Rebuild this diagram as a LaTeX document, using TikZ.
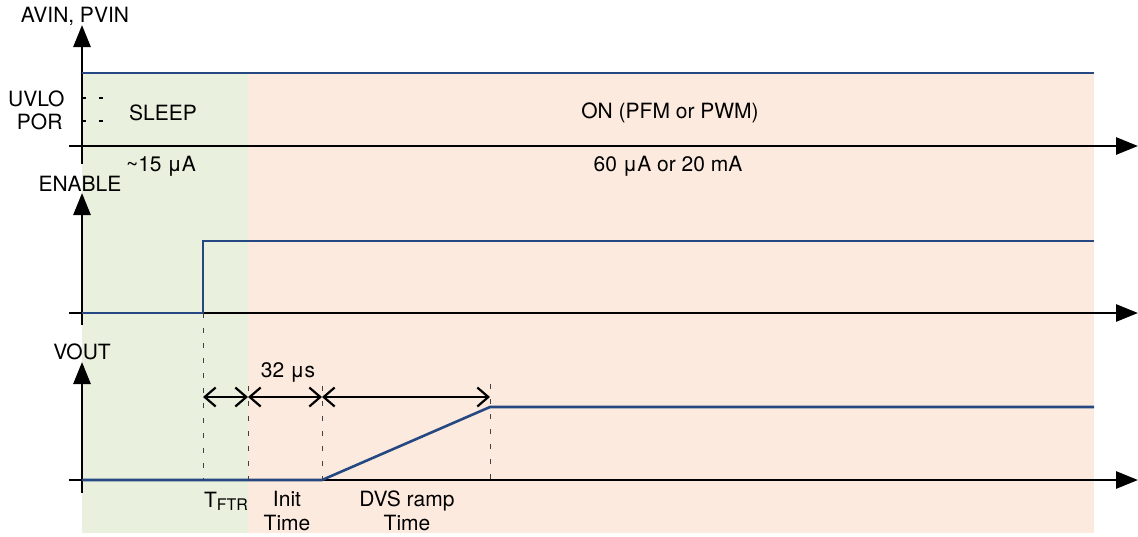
\documentclass[tikz,border=0pt]{standalone}
\usepackage{fontspec}
\setmainfont{TeX Gyre Heros}
\usetikzlibrary{arrows.meta}

\definecolor{sigblue}{RGB}{38,72,130}
\definecolor{sleepgreen}{RGB}{233,240,221}
\definecolor{onorange}{RGB}{252,234,222}

\begin{document}
\begin{tikzpicture}[x=1pt,y=-1pt,
  font=\fontsize{21}{24}\selectfont,
  axis/.style={line width=2.8pt,-{Triangle[length=22pt,width=17pt]}},
  signal/.style={sigblue,line width=2.6pt},
  guide/.style={black!75,line width=1pt,dash pattern=on 5pt off 10pt},
  dim/.style={line width=2.2pt,
    {Straight Barb[length=11pt,width=19pt]}-{Straight Barb[length=11pt,width=19pt]}}]
  \useasboundingbox (0,0) rectangle (1138,536);

  % Time marks
  \coordinate (t0) at (82,0);
  \coordinate (tEn) at (203,0);
  \coordinate (tFtr) at (248,0);
  \coordinate (tInit) at (322,0);
  \coordinate (tRamp) at (490,0);
  \coordinate (tEnd) at (1094,0);

  % Levels
  \coordinate (lvTop) at (0,73);
  \coordinate (ax1) at (0,146);
  \coordinate (enHigh) at (0,241);
  \coordinate (ax2) at (0,313);
  \coordinate (dimLv) at (0,397);
  \coordinate (voHigh) at (0,407);
  \coordinate (ax3) at (0,480);
  \coordinate (lvBot) at (0,533);

  % Background states
  \fill[sleepgreen] (t0 |- lvTop) rectangle (tFtr |- lvBot);
  \fill[onorange] (tFtr |- lvTop) rectangle (tEnd |- lvBot);

  % AVIN, PVIN
  \draw[axis] (82,164) -- (82,25);
  \draw[axis] (69,146) -- (1138,146);
  \node (avin) at (75,16) {AVIN, PVIN};
  \draw[signal] (t0 |- lvTop) -- (tEnd |- lvTop);
  \node[anchor=east] (uvlo) at (68,99) {UVLO};
  \node[anchor=east] (por) at (66,122) {POR};
  \draw[line width=1.2pt,dash pattern=on 4pt off 13pt] (82,98) -- (104,98);
  \draw[line width=1.2pt,dash pattern=on 4pt off 13pt] (82,121) -- (104,121);
  \node (sleep) at (163,113) {SLEEP};
  \node (on) at (670,113) {ON (PFM or PWM)};
  \node (isleep) at (161,166) {\textasciitilde15 μA};
  \node (ion) at (668,166) {60 μA or 20 mA};

  % ENABLE
  \draw[axis] (82,325) -- (82,193);
  \draw[axis] (69,313) -- (1138,313);
  \node (enable) at (80,184) {ENABLE};
  \draw[signal] (t0 |- ax2) -- (tEn |- ax2) -- (tEn |- enHigh) -- (tEnd |- enHigh);

  % VOUT
  \draw[axis] (82,493) -- (82,362);
  \draw[axis] (69,480) -- (1138,480);
  \node (vout) at (82,352) {VOUT};
  \draw[signal] (t0 |- ax3) -- (tInit |- ax3) -- (tRamp |- voHigh) -- (tEnd |- voHigh);

  % Guides
  \draw[guide] (tEn |- ax2) -- (tEn |- ax3);
  \draw[guide] (tFtr |- 0,386) -- (tFtr |- ax3);
  \draw[guide] (tInit |- 0,386) -- (tInit |- ax3);
  \draw[guide] (tRamp |- 0,384) -- (tRamp |- ax3);

  % Timing
  \draw[dim] (tEn |- dimLv) -- (tFtr |- dimLv);
  \draw[dim] (tFtr |- dimLv) -- (tInit |- dimLv);
  \draw[dim] (tInit |- dimLv) -- (tRamp |- dimLv);
  \node (tinit) at (288,372) {32 μs};
  \node (tftr) at (226,501) {T\raisebox{-0.3ex}{\fontsize{16}{16}\selectfont FTR}};
  \node[align=center] (init) at (287,511) {Init\\Time};
  \node[align=center] (ramp) at (407,511) {DVS ramp\\Time};
\end{tikzpicture}
\end{document}
